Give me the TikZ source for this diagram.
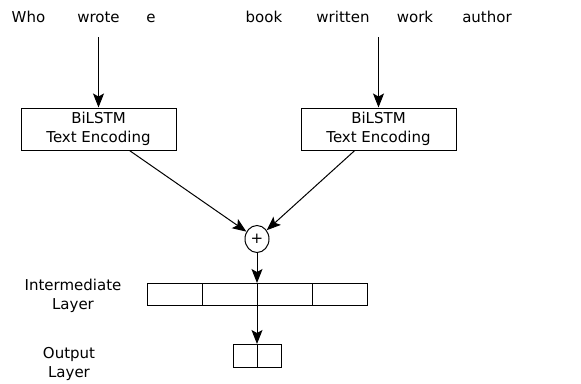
\documentclass[tikz,border=0pt]{standalone}
\usepackage{fontspec}
\setmainfont{DejaVu Sans}
\usetikzlibrary{arrows.meta,shapes.geometric}

\begin{document}
\begin{tikzpicture}[x=1pt, y=-1pt,
    font=\fontsize{15}{19.5}\selectfont,
    word/.style={anchor=base, inner sep=0},
    encoder/.style={draw, line width=1pt, minimum width=155pt, minimum height=42pt, align=center, inner sep=0},
    cell/.style={draw, line width=1pt, minimum width=55pt, minimum height=22pt, inner sep=0, outer sep=0},
    outcell/.style={cell, minimum width=24pt, minimum height=23pt},
    arr/.style={line width=1pt, -{Stealth[length=14pt, width=11pt, inset=3pt]}}]
  \useasboundingbox (0,0) rectangle (581,383);

  % input words
  \node[word] (who) at (28.5,22) {Who};
  \node[word] (wrote) at (98.5,22) {wrote};
  \node[word] (e) at (151,22) {e};
  \node[word] (book) at (264,22) {book};
  \node[word] (written) at (343,22) {written};
  \node[word] (work) at (415,22) {work};
  \node[word] (author) at (487,22) {author};

  \coordinate (inl) at (98.5,37);
  \coordinate (inr) at (378.5,37);

  % encoders
  \node[encoder] (encl) at (98.5,129) {BiLSTM\\Text Encoding};
  \node[encoder] (encr) at (378.5,129) {BiLSTM\\Text Encoding};

  \node[ellipse, draw, line width=1pt, minimum width=24pt, minimum height=27pt, inner sep=0] (plus) at (257,239) {+};

  % intermediate layer
  \node[cell] (i1) at (174.5,294) {};
  \node[cell] (i2) at (229.5,294) {};
  \node[cell] (i3) at (284.5,294) {};
  \node[cell] (i4) at (339.5,294) {};
  \node[align=center] (ilab) at (73,296) {Intermediate\\Layer};

  % output layer
  \node[outcell] (o1) at (245,355.5) {};
  \node[outcell] (o2) at (269,355.5) {};
  \node[align=center] (olab) at (69,364) {Output\\Layer};

  \draw[arr] (inl) -- (encl.north);
  \draw[arr] (inr) -- (encr.north);
  \draw[arr] (encl) -- (plus);
  \draw[arr] (encr) -- (plus);
  \draw[arr] (plus) -- (i2.north east);
  \draw[arr] (i2.south east) -- (o1.north east);
\end{tikzpicture}
\end{document}
